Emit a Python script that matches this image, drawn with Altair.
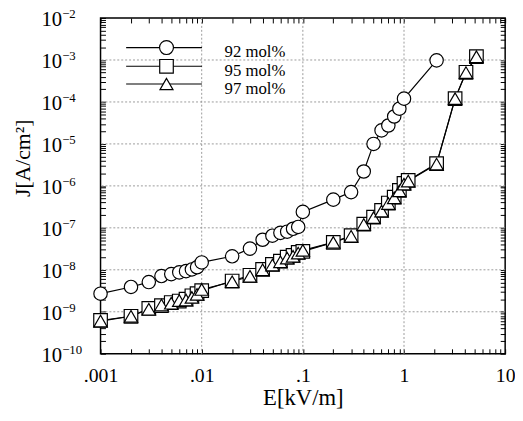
import json
import altair as alt
import pandas as pd

# ---------------- data ----------------
series_names = ["92 mol%", "95 mol%", "97 mol%"]

E_92 = [0.001, 0.002, 0.003, 0.004, 0.005, 0.006, 0.007, 0.008, 0.009, 0.01,
        0.02, 0.03, 0.04, 0.05, 0.06, 0.07, 0.08, 0.09, 0.1,
        0.2, 0.3, 0.4, 0.5, 0.6, 0.7, 0.8, 0.9, 1.0, 2.1]
J_92 = [2.7e-9, 3.9e-9, 5.1e-9, 7.1e-9, 7.9e-9, 8.7e-9, 9.3e-9, 1.02e-8, 1.15e-8, 1.5e-8,
        2.1e-8, 3.2e-8, 5.2e-8, 6.5e-8, 7.6e-8, 8.1e-8, 9.5e-8, 1.05e-7, 2.4e-7,
        4.7e-7, 7.1e-7, 2.2e-6, 1.0e-5, 2.1e-5, 2.75e-5, 4.5e-5, 6.9e-5, 1.2e-4, 9.8e-4]

E_95 = [0.001, 0.002, 0.003, 0.004, 0.005, 0.006, 0.007, 0.008, 0.009, 0.01,
        0.02, 0.03, 0.04, 0.05, 0.06, 0.07, 0.08, 0.09, 0.1,
        0.2, 0.3, 0.4, 0.5, 0.6, 0.7, 0.8, 0.9, 1.0, 1.1,
        2.1, 3.2, 4.1, 5.2]
J_95 = [6.2e-10, 7.8e-10, 1.2e-9, 1.4e-9, 1.66e-9, 1.8e-9, 2.0e-9, 2.4e-9, 2.7e-9, 3.2e-9,
        5.4e-9, 7.4e-9, 1.02e-8, 1.35e-8, 1.6e-8, 2.0e-8, 2.2e-8, 2.6e-8, 2.75e-8,
        4.5e-8, 6.5e-8, 1.23e-7, 1.8e-7, 2.6e-7, 3.9e-7, 5.4e-7, 7.8e-7, 1.15e-6, 1.35e-6,
        3.4e-6, 1.2e-4, 5.1e-4, 1.2e-3]

E_97 = [0.001, 0.002, 0.003, 0.004, 0.005, 0.006, 0.007, 0.008, 0.009, 0.01,
        0.02, 0.03, 0.04, 0.05, 0.06, 0.07, 0.08, 0.09, 0.1,
        0.2, 0.3, 0.4, 0.5, 0.6, 0.7, 0.8, 0.9, 1.0, 1.1,
        2.1, 3.2, 4.1, 5.2]
J_97 = [6.0e-10, 7.8e-10, 1.15e-9, 1.45e-9, 1.6e-9, 1.85e-9, 1.9e-9, 2.2e-9, 2.6e-9, 3.4e-9,
        5.2e-9, 7.0e-9, 1.0e-8, 1.3e-8, 1.55e-8, 1.9e-8, 2.1e-8, 2.5e-8, 2.9e-8,
        4.5e-8, 6.3e-8, 1.2e-7, 1.75e-7, 2.5e-7, 3.8e-7, 5.2e-7, 7.6e-7, 1.1e-6, 1.3e-6,
        3.3e-6, 1.2e-4, 5.0e-4, 1.2e-3]

x_tick_labels = [".001", ".01", ".1", "1", "10"]
y_major = [1e-10, 1e-9, 1e-8, 1e-7, 1e-6, 1e-5, 1e-4, 1e-3, 1e-2]
y_exponents = ["\u221210", "\u22129", "\u22128", "\u22127", "\u22126",
               "\u22125", "\u22124", "\u22123", "\u22122"]
x_grid = [0.01, 0.1, 1.0]
y_grid = [1e-9, 1e-8, 1e-7, 1e-6, 1e-5, 1e-4, 1e-3]

# ---------------- tables ----------------
df = pd.concat([
    pd.DataFrame({"E": E_92, "J": J_92, "s": series_names[0]}),
    pd.DataFrame({"E": E_95, "J": J_95, "s": series_names[1]}),
    pd.DataFrame({"E": E_97, "J": J_97, "s": series_names[2]}),
], ignore_index=True)

x_ticks = [round(k * 10.0 ** d, 12) for d in range(-3, 1) for k in range(1, 10)] + [10.0]
y_ticks = [float(f"{k}e{d}") for d in range(-10, -2) for k in range(1, 10)] + [1e-2]

ylab_df = pd.DataFrame({"v": y_major, "e": y_exponents})
gx_df = pd.DataFrame({"x": x_grid})
gy_df = pd.DataFrame({"y": y_grid})

SERIF = "'Liberation Serif', 'Times New Roman', Times, serif"
W, H = 411, 341

xs = alt.Scale(type="log", domain=[0.001, 10], nice=False)
ys = alt.Scale(type="log", domain=[1e-10, 1e-2], nice=False)

x_label_expr = (
    "abs(datum.value / pow(10, round(log(datum.value) / LN10)) - 1) < 0.001 ? "
    + json.dumps(x_tick_labels) + "[round(log(datum.value) / LN10) + 3] : ''"
)

tick_common = dict(grid=False, domain=False, offset=-5, tickSize=5,
                   tickColor="black", tickWidth=1)

x_bottom = alt.Axis(values=x_ticks, labelExpr=x_label_expr, labelFont=SERIF,
                    labelFontSize=20, labelColor="black", labelPadding=12,
                    labelOverlap=False, labelFlush=False, labelBound=False,
                    title="E[kV/m]", titleFont=SERIF, titleFontSize=23,
                    titleFontWeight="normal", titleColor="black", titlePadding=2,
                    **tick_common)
y_left = alt.Axis(values=y_ticks, labels=False, title="J[A/cm²]", titleFont=SERIF,
                  titleFontSize=22, titleFontWeight="normal", titleColor="black",
                  titleX=-84, titleY=142, titleAlign="center", titleBaseline="middle",
                  titleAngle=270, **tick_common)
x_top = alt.Axis(orient="top", values=x_ticks, labels=False, title=None, **tick_common)
y_right = alt.Axis(orient="right", values=y_ticks, labels=False, title=None, **tick_common)

# grid
grid_v = alt.Chart(gx_df).mark_rule(color="#9a9a9a", strokeDash=[2, 2], strokeWidth=1).encode(
    x=alt.X("x:Q", scale=xs, axis=None))
grid_h = alt.Chart(gy_df).mark_rule(color="#9a9a9a", strokeDash=[2, 2], strokeWidth=1).encode(
    y=alt.Y("y:Q", scale=ys, axis=None))

base = alt.Chart(df)

lines = base.mark_line(color="black", strokeWidth=1.2).encode(
    x=alt.X("E:Q", scale=xs, axis=x_bottom),
    y=alt.Y("J:Q", scale=ys, axis=y_left),
    detail="s:N",
    order="E:Q",
)

pt_style = dict(filled=True, fill="white", stroke="black", strokeWidth=1.2, opacity=1)

squares = base.transform_filter(alt.datum.s == series_names[1]).mark_point(
    shape="square", size=190, **pt_style).encode(
    x=alt.X("E:Q", scale=xs, axis=x_top),
    y=alt.Y("J:Q", scale=ys, axis=y_right),
)
triangles = base.transform_filter(alt.datum.s == series_names[2]).mark_point(
    shape="triangle-up", size=185, **pt_style).encode(
    x=alt.X("E:Q", scale=xs, axis=None),
    y=alt.Y("J:Q", scale=ys, axis=None),
)
circles = base.transform_filter(alt.datum.s == series_names[0]).mark_point(
    shape="circle", size=185, **pt_style).encode(
    x=alt.X("E:Q", scale=xs, axis=None),
    y=alt.Y("J:Q", scale=ys, axis=None),
)

# y tick labels: "10" with a superscript exponent
lab10 = alt.Chart(ylab_df).mark_text(text="10", align="right", baseline="middle",
                                     font=SERIF, fontSize=21, dy=2, color="black").encode(
    y=alt.Y("v:Q", scale=ys, axis=None), x=alt.value(-39))
labexp = alt.Chart(ylab_df).mark_text(align="left", baseline="middle",
                                      font=SERIF, fontSize=13, dy=-4, color="black").encode(
    y=alt.Y("v:Q", scale=ys, axis=None), x=alt.value(-39), text="e:N")

# legend (inside the plot, upper left)
legend_layers = []
shapes = ["circle", "square", "triangle-up"]
sizes = [200, 190, 175]
row_y = [30, 49, 67]
for name, shp, sz, ry in zip(series_names, shapes, sizes, row_y):
    one = pd.DataFrame({"s": [name]})
    c = alt.Chart(one)
    legend_layers.append(c.mark_rule(color="black", strokeWidth=1.2).encode(
        x=alt.value(26), x2=alt.value(103), y=alt.value(ry)))
    legend_layers.append(c.mark_point(shape=shp, size=sz, **pt_style).encode(
        x=alt.value(67), y=alt.value(ry)))
    legend_layers.append(c.mark_text(align="left", baseline="middle", font=SERIF,
                                     fontSize=17, color="black", dy=5).encode(
        x=alt.value(126), y=alt.value(ry), text="s:N"))

chart = alt.layer(
    grid_v, grid_h, lines, squares, triangles, circles, lab10, labexp, *legend_layers
).resolve_axis(x="independent", y="independent").properties(
    width=W, height=H,
    padding={"left": 94, "top": 7, "right": 10, "bottom": 56},
    autosize=alt.AutoSizeParams(type="none"),
    background="white",
).configure_view(stroke="black", strokeWidth=1.5)

chart.save("out.html", embed_options={"renderer": "svg", "actions": False})
